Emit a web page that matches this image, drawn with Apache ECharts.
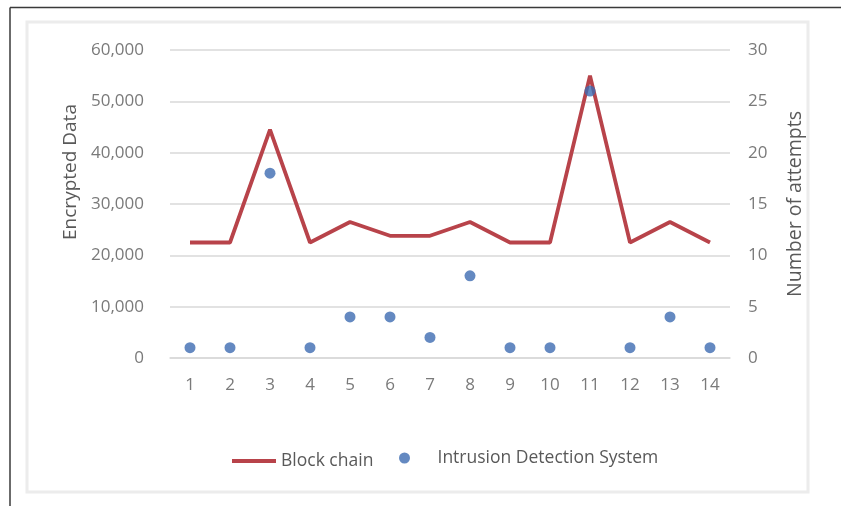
<!DOCTYPE html>
<html>
<head>
<meta charset="utf-8">
<script src="https://cdn.jsdelivr.net/npm/echarts@6/dist/echarts.min.js"></script>
<style>
  html, body { margin: 0; padding: 0; background: #ffffff; }
  #chart { width: 841px; height: 506px; }
</style>
</head>
<body>
<div id="chart"></div>
<script>
// Categories on the x axis
const categories = ['1','2','3','4','5','6','7','8','9','10','11','12','13','14'];
// Encrypted data per step (left axis)
const blockChain = [22500, 22500, 44500, 22500, 26500, 23800, 23800, 26500, 22500, 22500, 55000, 22500, 26500, 22500];
// Number of intrusion attempts per step (right axis)
const intrusionAttempts = [1, 1, 18, 1, 4, 4, 2, 8, 1, 1, 26, 1, 4, 1];
// Axis ranges
const leftAxisMax = 60000, leftAxisStep = 10000;
const rightAxisMax = 30, rightAxisStep = 5;

const FONT = '"Open Sans", Lato, sans-serif';
const LINE_COLOR = '#b8434a';
const DOT_COLOR = '#3d6cb2';
const chart = echarts.init(document.getElementById('chart'), null, { renderer: 'canvas' });

chart.setOption({
  backgroundColor: '#ffffff',
  animation: false,
  graphic: [
    // outer frame: dark edge on top and left
    { type: 'line', shape: { x1: 10, y1: 7.5, x2: 841, y2: 7.5 }, style: { stroke: '#3a3a3a', lineWidth: 1.5 }, silent: true },
    { type: 'line', shape: { x1: 10, y1: 7.5, x2: 10, y2: 506 }, style: { stroke: '#3a3a3a', lineWidth: 1.5 }, silent: true },
    // soft chart-area border
    { type: 'rect', shape: { x: 27, y: 22, width: 781, height: 470 }, style: { fill: 'none', stroke: '#ececec', lineWidth: 3 }, silent: true, z: -1 }
  ],
  grid: { left: 170, right: 111, top: 50, bottom: 148, containLabel: false },
  legend: [
    {
      left: 227,
      top: 447,
      icon: 'rect',
      itemWidth: 44,
      itemHeight: 4,
      textStyle: { fontFamily: FONT, fontSize: 17.5, color: '#595959', padding: [8, 0, 0, 0] },
      data: ['Block chain']
    },
    {
      left: 394,
      top: 444,
      icon: 'circle',
      itemWidth: 44,
      itemHeight: 11,
      textStyle: { fontFamily: FONT, fontSize: 17.5, color: '#595959', padding: [0, 0, 0, 6] },
      data: ['Intrusion Detection System']
    }
  ],
  xAxis: {
    type: 'category',
    data: categories,
    boundaryGap: true,
    axisLine: { show: true, lineStyle: { color: '#d9d9d9', width: 1.5 } },
    axisTick: { show: false },
    axisLabel: { fontFamily: FONT, fontSize: 17, color: '#7a7a7a', margin: 19 }
  },
  yAxis: [
    {
      type: 'value',
      min: 0, max: leftAxisMax, interval: leftAxisStep,
      name: 'Encrypted Data',
      nameLocation: 'middle',
      nameGap: 88,
      nameTextStyle: { fontFamily: FONT, fontSize: 19, color: '#595959', padding: [0, 0, 0, 64] },
      axisLine: { show: false },
      axisTick: { show: false },
      splitLine: { show: true, lineStyle: { color: '#d9d9d9', width: 1.5 } },
      axisLabel: {
        fontFamily: FONT, fontSize: 17, color: '#7a7a7a', margin: 26,
        formatter: v => v.toLocaleString('en-US')
      }
    },
    {
      type: 'value',
      min: 0, max: rightAxisMax, interval: rightAxisStep,
      name: 'Number of attempts',
      nameLocation: 'middle',
      nameGap: 55,
      nameTextStyle: { fontFamily: FONT, fontSize: 19.5, color: '#595959' },
      axisLine: { show: false },
      axisTick: { show: false },
      splitLine: { show: false },
      axisLabel: { fontFamily: FONT, fontSize: 17, color: '#7a7a7a', margin: 18 }
    }
  ],
  series: [
    {
      name: 'Block chain',
      type: 'line',
      yAxisIndex: 0,
      data: blockChain,
      symbol: 'none',
      lineStyle: { color: LINE_COLOR, width: 3.8 },
      itemStyle: { color: LINE_COLOR },
      z: 2
    },
    {
      name: 'Intrusion Detection System',
      type: 'scatter',
      yAxisIndex: 1,
      data: intrusionAttempts,
      symbol: 'circle',
      symbolSize: 11,
      itemStyle: { color: DOT_COLOR },
      z: 3
    }
  ]
});
</script>
</body>
</html>
